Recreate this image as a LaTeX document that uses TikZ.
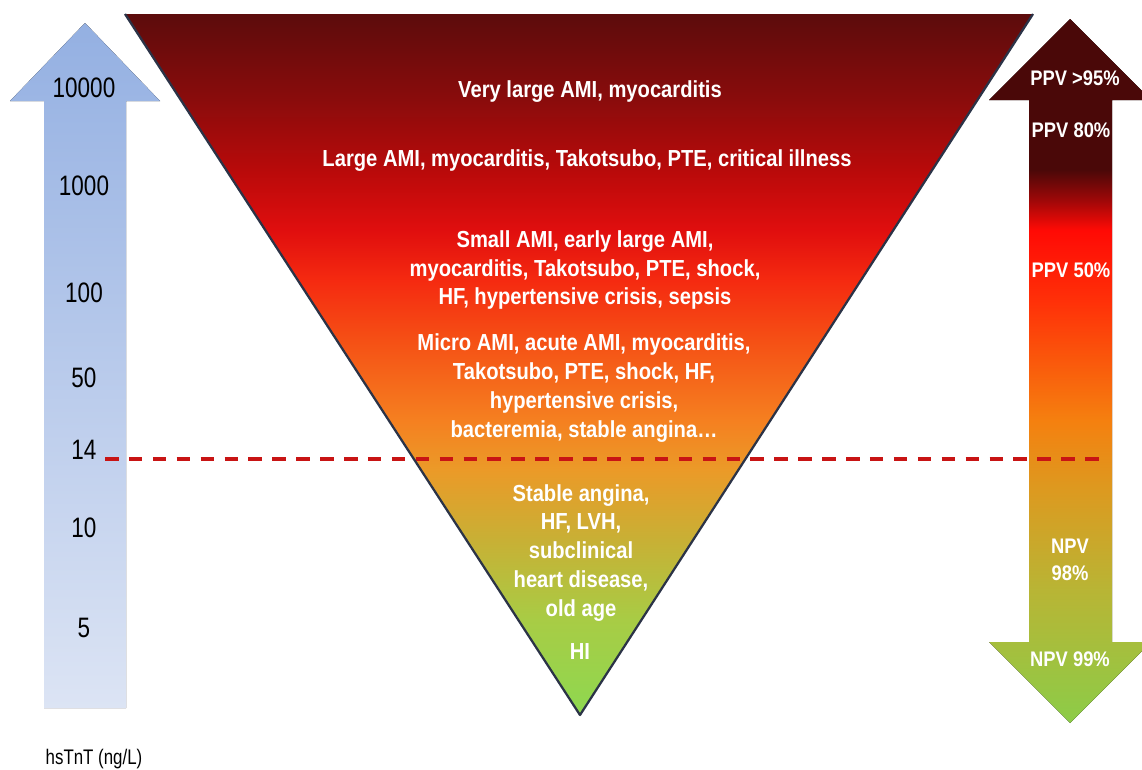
\documentclass[tikz,border=0pt]{standalone}
\usepackage{fontspec}
\newfontfamily\causefont{Liberation Sans}[FakeStretch=0.87]
\newfontfamily\scalefont{Liberation Sans}[FakeStretch=0.8]
\usetikzlibrary{positioning}

% colours of the cone
\definecolor{cone0}{HTML}{5C0C0C}
\definecolor{cone1}{HTML}{8A0C0C}
\definecolor{cone2}{HTML}{B80A0A}
\definecolor{cone3}{HTML}{E00E0E}
\definecolor{cone4}{HTML}{F52A10}
\definecolor{cone5}{HTML}{F55015}
\definecolor{cone6}{HTML}{F58020}
\definecolor{cone7}{HTML}{EB9A28}
\definecolor{cone8}{HTML}{C8B035}
\definecolor{cone9}{HTML}{A8CC45}
\definecolor{cone10}{HTML}{8ED850}
% colours of the predictive value arrow
\definecolor{pv0}{HTML}{4A0808}
\definecolor{pv1}{HTML}{A00808}
\definecolor{pv2}{HTML}{FF0A05}
\definecolor{pv3}{HTML}{FF3008}
\definecolor{pv4}{HTML}{F5800F}
\definecolor{pv5}{HTML}{DC9A20}
\definecolor{pv6}{HTML}{B8B535}
\definecolor{pv7}{HTML}{8CCC48}
\definecolor{scaletop}{HTML}{94B0E2}
\definecolor{scalebottom}{HTML}{DCE4F4}
\definecolor{cutred}{HTML}{C81414}
\definecolor{coneedge}{HTML}{2B3347}

\pgfdeclareverticalshading{coneshade}{100bp}{%
  color(0bp)=(cone10); color(25bp)=(cone10); color(31.8bp)=(cone9);
  color(37.5bp)=(cone8); color(42.5bp)=(cone7); color(46bp)=(cone6);
  color(51.7bp)=(cone5); color(56bp)=(cone4); color(59.6bp)=(cone3);
  color(63.9bp)=(cone2); color(68.9bp)=(cone1); color(75bp)=(cone0);
  color(100bp)=(cone0)}
\pgfdeclareverticalshading{pvshade}{100bp}{%
  color(0bp)=(pv7); color(25bp)=(pv7); color(34.4bp)=(pv6);
  color(41.5bp)=(pv5); color(46.5bp)=(pv4); color(55bp)=(pv3);
  color(60bp)=(pv2); color(62.1bp)=(pv1); color(64.3bp)=(pv0);
  color(75bp)=(pv0); color(100bp)=(pv0)}

\tikzset{
  cause/.style={
    text=white,
    font=\causefont\bfseries\fontsize{16.5}{20.6}\selectfont,
    align=center,
    inner sep=0pt
  },
  pvlabel/.style={
    text=white,
    font=\causefont\bfseries\fontsize{15}{19.5}\selectfont,
    align=center,
    inner sep=0pt
  },
  scalelabel/.style={
    font=\scalefont\fontsize{20}{22}\selectfont,
    inner sep=0pt
  },
  cutline/.style={
    draw=cutred,
    line width=2.3pt,
    dash pattern=on 9.6pt off 7.4pt
  }
}

\begin{document}
\begin{tikzpicture}[x=0.025cm, y=-0.025cm]
  \useasboundingbox (0,0) rectangle (1142,769);
  \clip (0,0) rectangle (1142,769);

  % Scale arrow
  \fill[top color=scaletop, bottom color=scalebottom]
    (85,23) -- (160,101) -- (126,101) -- (126,708) -- (44,708) -- (44,101) -- (10,101) -- cycle;

  % Cone of causes
  \coordinate (coneL) at (125,14);
  \coordinate (coneR) at (1033,14);
  \coordinate (coneTip) at (580,715);
  \fill[shading=coneshade] (coneL) -- (coneR) -- (coneTip) -- cycle;
  \draw[coneedge, line width=1.6pt, line join=round] (coneL) -- (coneTip) -- (coneR);

  % Predictive value arrow
  \fill[shading=pvshade]
    (1070,19) -- (1151,100) -- (1112,100) -- (1112,642) -- (1151,642) -- (1070,723)
    -- (989,642) -- (1029,642) -- (1029,100) -- (989,100) -- cycle;

  % Cut-off
  \coordinate (cutL) at (105,459);
  \coordinate (cutR) at (1108,459);
  \draw[cutline] (cutL) -- (cutR);

  % Scale labels
  \foreach \val/\yy in {10000/88, 1000/186, 100/293, 50/378, 14/450, 10/528, 5/628}
    \node[scalelabel] (s\val) at (84,\yy) {\val};
  \node[scalelabel, font=\scalefont\fontsize{15}{17}\selectfont] (unit) at (94,759) {hsTnT (ng/L)};

  % Causes
  \node[cause] (verylarge) at (590,92) {Very large AMI, myocarditis};
  \node[cause] (large) at (587,161) {Large AMI, myocarditis, Takotsubo, PTE, critical illness};
  \node[cause] (small) at (585,270) {Small AMI, early large AMI,\\myocarditis, Takotsubo, PTE, shock,\\HF, hypertensive crisis, sepsis};
  \node[cause] (micro) at (584,388) {Micro AMI, acute AMI, myocarditis,\\Takotsubo, PTE, shock, HF,\\hypertensive crisis,\\bacteremia, stable angina\ldots};
  \node[cause] (stable) at (581,553) {Stable angina,\\HF, LVH,\\subclinical\\heart disease,\\old age};
  \node[cause] (hi) at (580,652) {HI};

  % Predictive values
  \node[pvlabel] (ppv95) at (1075,78) {PPV >95\%};
  \node[pvlabel] (ppv80) at (1071,130) {PPV 80\%};
  \node[pvlabel] (ppv50) at (1071,270) {PPV 50\%};
  \node[pvlabel] (npv98) at (1070,560) {NPV\\98\%};
  \node[pvlabel] (npv99) at (1070,659) {NPV 99\%};
\end{tikzpicture}
\end{document}
